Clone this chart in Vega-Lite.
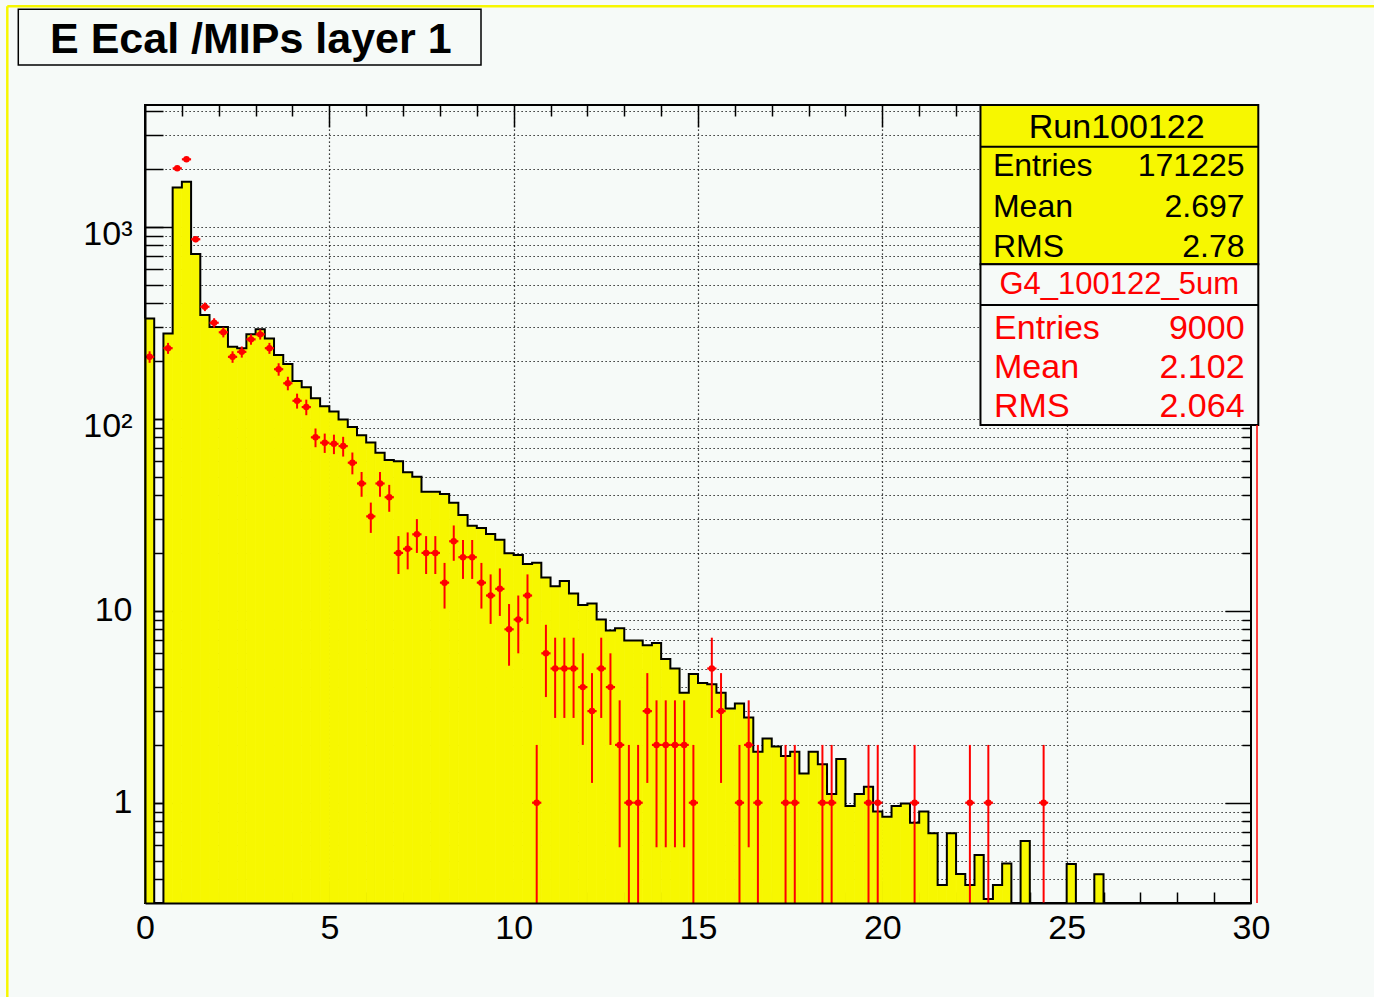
{
  "$schema": "https://vega.github.io/schema/vega-lite/v6.json",
  "width": 1106,
  "height": 798,
  "autosize": {"type": "none"},
  "padding": {"left": 145, "top": 105, "right": 123, "bottom": 94},
  "background": "#f6faf8",
  "config": {
    "font": "Liberation Sans",
    "view": {"stroke": "#000000", "strokeWidth": 2},
    "axis": {"labelFont": "Liberation Sans", "labelFontSize": 34, "labelColor": "#000000", "tickColor": "#000000", "tickWidth": 1.5, "domainColor": "#000000", "domainWidth": 2, "gridColor": "#000000", "gridDash": [1.2, 2.8], "gridWidth": 1.2, "gridOpacity": 1, "labelFlush": false, "labelOverlap": false}
  },
  "datasets": {
    "hist": [
      {"lo": 0, "hi": 0.25, "mid": 0.125, "run": 333, "g4": 210, "g4lo": 195.5, "g4hi": 224.5},
      {"lo": 0.25, "hi": 0.5, "mid": 0.375, "run": 0, "g4": 0},
      {"lo": 0.5, "hi": 0.75, "mid": 0.625, "run": 278, "g4": 233, "g4lo": 217.7, "g4hi": 248.3},
      {"lo": 0.75, "hi": 1, "mid": 0.875, "run": 1603, "g4": 2014, "g4lo": 1969, "g4hi": 2059},
      {"lo": 1, "hi": 1.25, "mid": 1.125, "run": 1715, "g4": 2244, "g4lo": 2197, "g4hi": 2291},
      {"lo": 1.25, "hi": 1.5, "mid": 1.375, "run": 721, "g4": 860, "g4lo": 830.7, "g4hi": 889.3},
      {"lo": 1.5, "hi": 1.75, "mid": 1.625, "run": 347, "g4": 383, "g4lo": 363.4, "g4hi": 402.6},
      {"lo": 1.75, "hi": 2, "mid": 1.875, "run": 300, "g4": 316, "g4lo": 298.2, "g4hi": 333.8},
      {"lo": 2, "hi": 2.25, "mid": 2.125, "run": 300, "g4": 282, "g4lo": 265.2, "g4hi": 298.8},
      {"lo": 2.25, "hi": 2.5, "mid": 2.375, "run": 237, "g4": 210, "g4lo": 195.5, "g4hi": 224.5},
      {"lo": 2.5, "hi": 2.75, "mid": 2.625, "run": 233, "g4": 223, "g4lo": 208.1, "g4hi": 237.9},
      {"lo": 2.75, "hi": 3, "mid": 2.875, "run": 275, "g4": 259, "g4lo": 242.9, "g4hi": 275.1},
      {"lo": 3, "hi": 3.25, "mid": 3.125, "run": 292, "g4": 275, "g4lo": 258.4, "g4hi": 291.6},
      {"lo": 3.25, "hi": 3.5, "mid": 3.375, "run": 262, "g4": 233, "g4lo": 217.7, "g4hi": 248.3},
      {"lo": 3.5, "hi": 3.75, "mid": 3.625, "run": 215, "g4": 181, "g4lo": 167.5, "g4hi": 194.5},
      {"lo": 3.75, "hi": 4, "mid": 3.875, "run": 193, "g4": 153, "g4lo": 140.6, "g4hi": 165.4},
      {"lo": 4, "hi": 4.25, "mid": 4.125, "run": 157, "g4": 124, "g4lo": 112.9, "g4hi": 135.1},
      {"lo": 4.25, "hi": 4.5, "mid": 4.375, "run": 146, "g4": 115, "g4lo": 104.3, "g4hi": 125.7},
      {"lo": 4.5, "hi": 4.75, "mid": 4.625, "run": 128, "g4": 80, "g4lo": 71.06, "g4hi": 88.94},
      {"lo": 4.75, "hi": 5, "mid": 4.875, "run": 116, "g4": 75, "g4lo": 66.34, "g4hi": 83.66},
      {"lo": 5, "hi": 5.25, "mid": 5.125, "run": 109, "g4": 74, "g4lo": 65.4, "g4hi": 82.6},
      {"lo": 5.25, "hi": 5.5, "mid": 5.375, "run": 99, "g4": 72, "g4lo": 63.51, "g4hi": 80.49},
      {"lo": 5.5, "hi": 5.75, "mid": 5.625, "run": 90.5, "g4": 59, "g4lo": 51.32, "g4hi": 66.68},
      {"lo": 5.75, "hi": 6, "mid": 5.875, "run": 82, "g4": 46, "g4lo": 39.22, "g4hi": 52.78},
      {"lo": 6, "hi": 6.25, "mid": 6.125, "run": 75.3, "g4": 31, "g4lo": 25.43, "g4hi": 36.57},
      {"lo": 6.25, "hi": 6.5, "mid": 6.375, "run": 66.5, "g4": 46, "g4lo": 39.22, "g4hi": 52.78},
      {"lo": 6.5, "hi": 6.75, "mid": 6.625, "run": 61, "g4": 39, "g4lo": 32.76, "g4hi": 45.24},
      {"lo": 6.75, "hi": 7, "mid": 6.875, "run": 60, "g4": 20, "g4lo": 15.53, "g4hi": 24.47},
      {"lo": 7, "hi": 7.25, "mid": 7.125, "run": 52.6, "g4": 21, "g4lo": 16.42, "g4hi": 25.58},
      {"lo": 7.25, "hi": 7.5, "mid": 7.375, "run": 49.9, "g4": 25, "g4lo": 20, "g4hi": 30},
      {"lo": 7.5, "hi": 7.75, "mid": 7.625, "run": 41.7, "g4": 20, "g4lo": 15.53, "g4hi": 24.47},
      {"lo": 7.75, "hi": 8, "mid": 7.875, "run": 41.7, "g4": 20, "g4lo": 15.53, "g4hi": 24.47},
      {"lo": 8, "hi": 8.25, "mid": 8.125, "run": 40.5, "g4": 14, "g4lo": 10.26, "g4hi": 17.74},
      {"lo": 8.25, "hi": 8.5, "mid": 8.375, "run": 36.5, "g4": 23, "g4lo": 18.2, "g4hi": 27.8},
      {"lo": 8.5, "hi": 8.75, "mid": 8.625, "run": 31.5, "g4": 19, "g4lo": 14.64, "g4hi": 23.36},
      {"lo": 8.75, "hi": 9, "mid": 8.875, "run": 27.7, "g4": 19, "g4lo": 14.64, "g4hi": 23.36},
      {"lo": 9, "hi": 9.25, "mid": 9.125, "run": 27, "g4": 14, "g4lo": 10.26, "g4hi": 17.74},
      {"lo": 9.25, "hi": 9.5, "mid": 9.375, "run": 25.1, "g4": 12, "g4lo": 8.536, "g4hi": 15.46},
      {"lo": 9.5, "hi": 9.75, "mid": 9.625, "run": 23.4, "g4": 13, "g4lo": 9.394, "g4hi": 16.61},
      {"lo": 9.75, "hi": 10, "mid": 9.875, "run": 19.9, "g4": 8, "g4lo": 5.172, "g4hi": 10.83},
      {"lo": 10, "hi": 10.25, "mid": 10.125, "run": 19.5, "g4": 9, "g4lo": 6, "g4hi": 12},
      {"lo": 10.25, "hi": 10.5, "mid": 10.375, "run": 17.5, "g4": 12, "g4lo": 8.536, "g4hi": 15.46},
      {"lo": 10.5, "hi": 10.75, "mid": 10.625, "run": 17.8, "g4": 1, "g4lo": 0, "g4hi": 2},
      {"lo": 10.75, "hi": 11, "mid": 10.875, "run": 14.9, "g4": 6, "g4lo": 3.551, "g4hi": 8.449},
      {"lo": 11, "hi": 11.25, "mid": 11.125, "run": 13.4, "g4": 5, "g4lo": 2.764, "g4hi": 7.236},
      {"lo": 11.25, "hi": 11.5, "mid": 11.375, "run": 14.3, "g4": 5, "g4lo": 2.764, "g4hi": 7.236},
      {"lo": 11.5, "hi": 11.75, "mid": 11.625, "run": 12.3, "g4": 5, "g4lo": 2.764, "g4hi": 7.236},
      {"lo": 11.75, "hi": 12, "mid": 11.875, "run": 10.7, "g4": 4, "g4lo": 2, "g4hi": 6},
      {"lo": 12, "hi": 12.25, "mid": 12.125, "run": 10.9, "g4": 3, "g4lo": 1.268, "g4hi": 4.732},
      {"lo": 12.25, "hi": 12.5, "mid": 12.375, "run": 9.0, "g4": 5, "g4lo": 2.764, "g4hi": 7.236},
      {"lo": 12.5, "hi": 12.75, "mid": 12.625, "run": 7.9, "g4": 4, "g4lo": 2, "g4hi": 6},
      {"lo": 12.75, "hi": 13, "mid": 12.875, "run": 8.1, "g4": 2, "g4lo": 0.586, "g4hi": 3.414},
      {"lo": 13, "hi": 13.25, "mid": 13.125, "run": 7.0, "g4": 1, "g4lo": 0, "g4hi": 2},
      {"lo": 13.25, "hi": 13.5, "mid": 13.375, "run": 7.0, "g4": 1, "g4lo": 0, "g4hi": 2},
      {"lo": 13.5, "hi": 13.75, "mid": 13.625, "run": 6.6, "g4": 3, "g4lo": 1.268, "g4hi": 4.732},
      {"lo": 13.75, "hi": 14, "mid": 13.875, "run": 6.8, "g4": 2, "g4lo": 0.586, "g4hi": 3.414},
      {"lo": 14, "hi": 14.25, "mid": 14.125, "run": 5.6, "g4": 2, "g4lo": 0.586, "g4hi": 3.414},
      {"lo": 14.25, "hi": 14.5, "mid": 14.375, "run": 5.0, "g4": 2, "g4lo": 0.586, "g4hi": 3.414},
      {"lo": 14.5, "hi": 14.75, "mid": 14.625, "run": 3.74, "g4": 2, "g4lo": 0.586, "g4hi": 3.414},
      {"lo": 14.75, "hi": 15, "mid": 14.875, "run": 4.68, "g4": 1, "g4lo": 0, "g4hi": 2},
      {"lo": 15, "hi": 15.25, "mid": 15.125, "run": 4.2, "g4": 0},
      {"lo": 15.25, "hi": 15.5, "mid": 15.375, "run": 4.14, "g4": 5, "g4lo": 2.764, "g4hi": 7.236},
      {"lo": 15.5, "hi": 15.75, "mid": 15.625, "run": 3.74, "g4": 3, "g4lo": 1.268, "g4hi": 4.732},
      {"lo": 15.75, "hi": 16, "mid": 15.875, "run": 3.1, "g4": 0},
      {"lo": 16, "hi": 16.25, "mid": 16.125, "run": 3.29, "g4": 1, "g4lo": 0, "g4hi": 2},
      {"lo": 16.25, "hi": 16.5, "mid": 16.375, "run": 2.78, "g4": 2, "g4lo": 0.586, "g4hi": 3.414},
      {"lo": 16.5, "hi": 16.75, "mid": 16.625, "run": 1.84, "g4": 1, "g4lo": 0, "g4hi": 2},
      {"lo": 16.75, "hi": 17, "mid": 16.875, "run": 2.16, "g4": 0},
      {"lo": 17, "hi": 17.25, "mid": 17.125, "run": 1.96, "g4": 0},
      {"lo": 17.25, "hi": 17.5, "mid": 17.375, "run": 1.75, "g4": 1, "g4lo": 0, "g4hi": 2},
      {"lo": 17.5, "hi": 17.75, "mid": 17.625, "run": 1.84, "g4": 1, "g4lo": 0, "g4hi": 2},
      {"lo": 17.75, "hi": 18, "mid": 17.875, "run": 1.42, "g4": 0},
      {"lo": 18, "hi": 18.25, "mid": 18.125, "run": 1.84, "g4": 0},
      {"lo": 18.25, "hi": 18.5, "mid": 18.375, "run": 1.585, "g4": 1, "g4lo": 0, "g4hi": 2},
      {"lo": 18.5, "hi": 18.75, "mid": 18.625, "run": 1.11, "g4": 1, "g4lo": 0, "g4hi": 2},
      {"lo": 18.75, "hi": 19, "mid": 18.875, "run": 1.69, "g4": 0},
      {"lo": 19, "hi": 19.25, "mid": 19.125, "run": 0.96, "g4": 0},
      {"lo": 19.25, "hi": 19.5, "mid": 19.375, "run": 1.11, "g4": 0},
      {"lo": 19.5, "hi": 19.75, "mid": 19.625, "run": 1.21, "g4": 1, "g4lo": 0, "g4hi": 2},
      {"lo": 19.75, "hi": 20, "mid": 19.875, "run": 0.9, "g4": 1, "g4lo": 0, "g4hi": 2},
      {"lo": 20, "hi": 20.25, "mid": 20.125, "run": 0.846, "g4": 0},
      {"lo": 20.25, "hi": 20.5, "mid": 20.375, "run": 0.96, "g4": 0},
      {"lo": 20.5, "hi": 20.75, "mid": 20.625, "run": 0.99, "g4": 0},
      {"lo": 20.75, "hi": 21, "mid": 20.875, "run": 0.787, "g4": 1, "g4lo": 0, "g4hi": 2},
      {"lo": 21, "hi": 21.25, "mid": 21.125, "run": 0.9, "g4": 0},
      {"lo": 21.25, "hi": 21.5, "mid": 21.375, "run": 0.693, "g4": 0},
      {"lo": 21.5, "hi": 21.75, "mid": 21.625, "run": 0.373, "g4": 0},
      {"lo": 21.75, "hi": 22, "mid": 21.875, "run": 0.693, "g4": 0},
      {"lo": 22, "hi": 22.25, "mid": 22.125, "run": 0.425, "g4": 0},
      {"lo": 22.25, "hi": 22.5, "mid": 22.375, "run": 0.373, "g4": 1, "g4lo": 0, "g4hi": 2},
      {"lo": 22.5, "hi": 22.75, "mid": 22.625, "run": 0.534, "g4": 0},
      {"lo": 22.75, "hi": 23, "mid": 22.875, "run": 0.315, "g4": 1, "g4lo": 0, "g4hi": 2},
      {"lo": 23, "hi": 23.25, "mid": 23.125, "run": 0.373, "g4": 0},
      {"lo": 23.25, "hi": 23.5, "mid": 23.375, "run": 0.483, "g4": 0},
      {"lo": 23.5, "hi": 23.75, "mid": 23.625, "run": 0, "g4": 0},
      {"lo": 23.75, "hi": 24, "mid": 23.875, "run": 0.632, "g4": 0},
      {"lo": 24, "hi": 24.25, "mid": 24.125, "run": 0, "g4": 0},
      {"lo": 24.25, "hi": 24.5, "mid": 24.375, "run": 0, "g4": 1, "g4lo": 0, "g4hi": 2},
      {"lo": 24.5, "hi": 24.75, "mid": 24.625, "run": 0, "g4": 0},
      {"lo": 24.75, "hi": 25, "mid": 24.875, "run": 0, "g4": 0},
      {"lo": 25, "hi": 25.25, "mid": 25.125, "run": 0.48, "g4": 0},
      {"lo": 25.25, "hi": 25.5, "mid": 25.375, "run": 0, "g4": 0},
      {"lo": 25.5, "hi": 25.75, "mid": 25.625, "run": 0, "g4": 0},
      {"lo": 25.75, "hi": 26, "mid": 25.875, "run": 0.424, "g4": 0},
      {"lo": 26, "hi": 26.25, "mid": 26.125, "run": 0, "g4": 0},
      {"lo": 26.25, "hi": 26.5, "mid": 26.375, "run": 0, "g4": 0},
      {"lo": 26.5, "hi": 26.75, "mid": 26.625, "run": 0, "g4": 0},
      {"lo": 26.75, "hi": 27, "mid": 26.875, "run": 0, "g4": 0},
      {"lo": 27, "hi": 27.25, "mid": 27.125, "run": 0, "g4": 0},
      {"lo": 27.25, "hi": 27.5, "mid": 27.375, "run": 0, "g4": 0},
      {"lo": 27.5, "hi": 27.75, "mid": 27.625, "run": 0, "g4": 0},
      {"lo": 27.75, "hi": 28, "mid": 27.875, "run": 0, "g4": 0},
      {"lo": 28, "hi": 28.25, "mid": 28.125, "run": 0, "g4": 0},
      {"lo": 28.25, "hi": 28.5, "mid": 28.375, "run": 0, "g4": 0},
      {"lo": 28.5, "hi": 28.75, "mid": 28.625, "run": 0, "g4": 0},
      {"lo": 28.75, "hi": 29, "mid": 28.875, "run": 0, "g4": 0},
      {"lo": 29, "hi": 29.25, "mid": 29.125, "run": 0, "g4": 0},
      {"lo": 29.25, "hi": 29.5, "mid": 29.375, "run": 0, "g4": 0},
      {"lo": 29.5, "hi": 29.75, "mid": 29.625, "run": 0, "g4": 0},
      {"lo": 29.75, "hi": 30, "mid": 29.875, "run": 0, "g4": 0}
    ]
  },
  "resolve": {"scale": {"y": "independent"}, "axis": {"x": "independent", "y": "independent"}},
  "layer": [
    {
      "data": {"name": "hist"},
      "transform": [{"filter": "datum.run > 0"}],
      "mark": {"type": "rect", "color": "#f7f700", "stroke": "#f7f700", "strokeWidth": 0.8},
      "encoding": {
        "x": {"field": "lo", "type": "quantitative", "scale": {"domain": [0, 30], "nice": false, "zero": false},
              "axis": {"orient": "bottom", "values": [5, 10, 15, 20, 25], "labels": false, "domain": false, "tickSize": -22, "grid": true, "title": null}},
        "x2": {"field": "hi"},
        "y": {"field": "run", "type": "quantitative", "scale": {"type": "log", "domain": [0.3004, 4305], "nice": false, "clamp": true},
              "axis": {"orient": "left", "values": [0.4, 0.5, 0.6, 0.7, 0.8, 0.9, 1, 2, 3, 4, 5, 6, 7, 8, 9, 10, 20, 30, 40, 50, 60, 70, 80, 90, 100, 200, 300, 400, 500, 600, 700, 800, 900, 1000, 2000, 3000, 4000], "labels": false, "domain": false, "tickSize": -18, "grid": true, "title": null}},
        "y2": {"datum": 0.3004}
      }
    },
    {
      "data": {"name": "hist"},
      "mark": {"type": "line", "interpolate": "step-after", "color": "#000000", "strokeWidth": 2, "invalid": "show"},
      "encoding": {
        "x": {"field": "lo", "type": "quantitative", "scale": {"domain": [0, 30], "nice": false, "zero": false},
              "axis": {"orient": "bottom", "values": [1, 2, 3, 4, 6, 7, 8, 9, 11, 12, 13, 14, 16, 17, 18, 19, 21, 22, 23, 24, 26, 27, 28, 29], "labels": false, "domain": false, "tickSize": -11, "grid": false, "title": null}},
        "y": {"field": "run", "type": "quantitative", "scale": {"type": "log", "domain": [0.3004, 4305], "nice": false, "clamp": true},
              "axis": {"orient": "left", "values": [1, 10, 100, 1000], "labels": false, "domain": false, "tickSize": -28, "grid": false, "title": null}}
      }
    },
    {
      "data": {"name": "hist"},
      "transform": [{"filter": "datum.g4 > 0"}],
      "mark": {"type": "rule", "color": "#ff0000", "strokeWidth": 2, "invalid": "show"},
      "encoding": {
        "x": {"field": "mid", "type": "quantitative", "scale": {"domain": [0, 30], "nice": false, "zero": false},
              "axis": {"orient": "top", "values": [5, 10, 15, 20, 25], "labels": false, "domain": false, "tickSize": -22, "grid": false, "title": null}},
        "y": {"field": "g4lo", "type": "quantitative", "scale": {"type": "log", "domain": [0.3004, 4305], "nice": false, "clamp": true},
              "axis": {"orient": "right", "values": [1, 10, 100, 1000], "labels": false, "domain": false, "tickSize": -26, "grid": false, "title": null}},
        "y2": {"field": "g4hi"}
      }
    },
    {
      "data": {"name": "hist"},
      "transform": [{"filter": "datum.g4 > 0"}],
      "mark": {"type": "rule", "color": "#ff0000", "strokeWidth": 2.2, "invalid": "show"},
      "encoding": {
        "x": {"field": "lo", "type": "quantitative", "scale": {"domain": [0, 30], "nice": false, "zero": false},
              "axis": {"orient": "top", "values": [1, 2, 3, 4, 6, 7, 8, 9, 11, 12, 13, 14, 16, 17, 18, 19, 21, 22, 23, 24, 26, 27, 28, 29], "labels": false, "domain": false, "tickSize": -11, "grid": false, "title": null}},
        "x2": {"field": "hi"},
        "y": {"field": "g4", "type": "quantitative", "scale": {"type": "log", "domain": [0.3004, 4305], "nice": false, "clamp": true},
              "axis": {"orient": "right", "values": [0.4, 0.5, 0.6, 0.7, 0.8, 0.9, 2, 3, 4, 5, 6, 7, 8, 9, 20, 30, 40, 50, 60, 70, 80, 90, 200, 300, 400, 500, 600, 700, 800, 900, 2000, 3000, 4000], "labels": false, "domain": false, "tickSize": -9, "grid": false, "title": null}}
      }
    },
    {
      "data": {"name": "hist"},
      "transform": [{"filter": "datum.g4 > 0"}],
      "mark": {"type": "point", "shape": "circle", "filled": true, "color": "#ff0000", "size": 42, "opacity": 1},
      "encoding": {
        "x": {"field": "mid", "type": "quantitative", "scale": {"domain": [0, 30], "nice": false, "zero": false},
              "axis": {"orient": "bottom", "values": [0, 5, 10, 15, 20, 25, 30], "ticks": false, "domain": true, "zindex": 1, "labelPadding": 8, "grid": false, "title": null}},
        "y": {"field": "g4", "type": "quantitative", "scale": {"type": "log", "domain": [0.3004, 4305], "nice": false, "clamp": true},
              "axis": {"orient": "left", "values": [1, 10, 100, 1000], "ticks": false, "domain": true, "zindex": 1, "labelPadding": 13, "labelBaseline": "middle",
                       "labelExpr": "datum.value > 500 ? '10³' : datum.value > 50 ? '10²' : datum.label",
                       "labelOffset": {"condition": {"test": "datum.value > 50", "value": 8}, "value": 0},
                       "grid": false, "title": null}}
      }
    },
    {
      "data": {"values": [{}]},
      "layer": [
        {
          "mark": {"type": "rect", "fill": "#f6faf8", "stroke": "#000000", "strokeWidth": 1.5},
          "encoding": {
            "x": {"datum": -3.437, "type": "quantitative", "scale": {"domain": [0, 30], "nice": false, "zero": false}, "axis": null},
            "x2": {"datum": 9.114},
            "y": {"datum": 13565, "type": "quantitative", "scale": {"type": "log", "domain": [0.3004, 4305], "nice": false}, "axis": null},
            "y2": {"datum": 6956}
          }
        },
        {
          "mark": {"type": "text", "text": "E Ecal /MIPs layer 1", "font": "Liberation Sans", "fontSize": 43, "fontWeight": "bold", "align": "center", "baseline": "alphabetic", "color": "#000000"},
          "encoding": {
            "x": {"datum": 2.871, "type": "quantitative", "axis": null},
            "y": {"datum": 8062, "type": "quantitative", "axis": null}
          }
        },
        {
          "mark": {"type": "rect", "fill": "#f7f700", "stroke": "#000000", "strokeWidth": 2},
          "encoding": {
            "x": {"datum": 22.662, "type": "quantitative", "axis": null},
            "x2": {"datum": 30.198},
            "y": {"datum": 4305, "type": "quantitative", "axis": null},
            "y2": {"datum": 637.5}
          }
        },
        {
          "mark": {"type": "rect", "fill": "#f6faf8", "stroke": "#000000", "strokeWidth": 2},
          "encoding": {
            "x": {"datum": 22.662, "type": "quantitative", "axis": null},
            "x2": {"datum": 30.198},
            "y": {"datum": 637.5, "type": "quantitative", "axis": null},
            "y2": {"datum": 92.76}
          }
        },
        {
          "mark": {"type": "rule", "color": "#000000", "strokeWidth": 2},
          "encoding": {
            "x": {"datum": 22.662, "type": "quantitative", "axis": null},
            "x2": {"datum": 30.198},
            "y": {"datum": 2611, "type": "quantitative", "axis": null}
          }
        },
        {
          "mark": {"type": "rule", "color": "#000000", "strokeWidth": 2},
          "encoding": {
            "x": {"datum": 22.662, "type": "quantitative", "axis": null},
            "x2": {"datum": 30.198},
            "y": {"datum": 391.1, "type": "quantitative", "axis": null}
          }
        },
        {
          "mark": {"type": "text", "text": "Run100122", "font": "Liberation Sans", "fontSize": 34, "align": "center", "baseline": "alphabetic", "color": "#000000"},
          "encoding": {
            "x": {"datum": 26.357, "type": "quantitative", "axis": null},
            "y": {"datum": 2888, "type": "quantitative", "axis": null}
          }
        },
        {
          "mark": {"type": "text", "text": ["Entries", "Mean", "RMS"], "lineHeight": 40.6, "font": "Liberation Sans", "fontSize": 32, "align": "left", "baseline": "alphabetic", "color": "#000000"},
          "encoding": {
            "x": {"datum": 23.0, "type": "quantitative", "axis": null},
            "y": {"datum": 1838, "type": "quantitative", "axis": null}
          }
        },
        {
          "mark": {"type": "text", "text": ["171225", "2.697", "2.78"], "lineHeight": 40.6, "font": "Liberation Sans", "fontSize": 32, "align": "right", "baseline": "alphabetic", "color": "#000000"},
          "encoding": {
            "x": {"datum": 29.825, "type": "quantitative", "axis": null},
            "y": {"datum": 1838, "type": "quantitative", "axis": null}
          }
        },
        {
          "mark": {"type": "text", "text": "G4_100122_5um", "font": "Liberation Sans", "fontSize": 31, "align": "center", "baseline": "alphabetic", "color": "#ff0000"},
          "encoding": {
            "x": {"datum": 26.425, "type": "quantitative", "axis": null},
            "y": {"datum": 444.7, "type": "quantitative", "axis": null}
          }
        },
        {
          "mark": {"type": "text", "text": ["Entries", "Mean", "RMS"], "lineHeight": 39, "font": "Liberation Sans", "fontSize": 34, "align": "left", "baseline": "alphabetic", "color": "#ff0000"},
          "encoding": {
            "x": {"datum": 23.03, "type": "quantitative", "axis": null},
            "y": {"datum": 259.3, "type": "quantitative", "axis": null}
          }
        },
        {
          "mark": {"type": "text", "text": ["9000", "2.102", "2.064"], "lineHeight": 39, "font": "Liberation Sans", "fontSize": 34, "align": "right", "baseline": "alphabetic", "color": "#ff0000"},
          "encoding": {
            "x": {"datum": 29.825, "type": "quantitative", "axis": null},
            "y": {"datum": 259.3, "type": "quantitative", "axis": null}
          }
        },
        {
          "mark": {"type": "rule", "color": "#f7f700", "strokeWidth": 2.5},
          "encoding": {
            "x": {"datum": -3.735, "type": "quantitative", "axis": null},
            "y": {"datum": 14086, "type": "quantitative", "axis": null},
            "y2": {"datum": 0.0973}
          }
        },
        {
          "mark": {"type": "rule", "color": "#f7f700", "strokeWidth": 2.5},
          "encoding": {
            "x": {"datum": -3.735, "type": "quantitative", "axis": null},
            "x2": {"datum": 33.337},
            "y": {"datum": 14086, "type": "quantitative", "axis": null}
          }
        },
        {
          "mark": {"type": "rule", "color": "#ff0000", "strokeWidth": 1.5},
          "encoding": {
            "x": {"datum": 30.163, "type": "quantitative", "axis": null},
            "y": {"datum": 92.76, "type": "quantitative", "axis": null},
            "y2": {"datum": 0.3004}
          }
        }
      ]
    }
  ]
}
